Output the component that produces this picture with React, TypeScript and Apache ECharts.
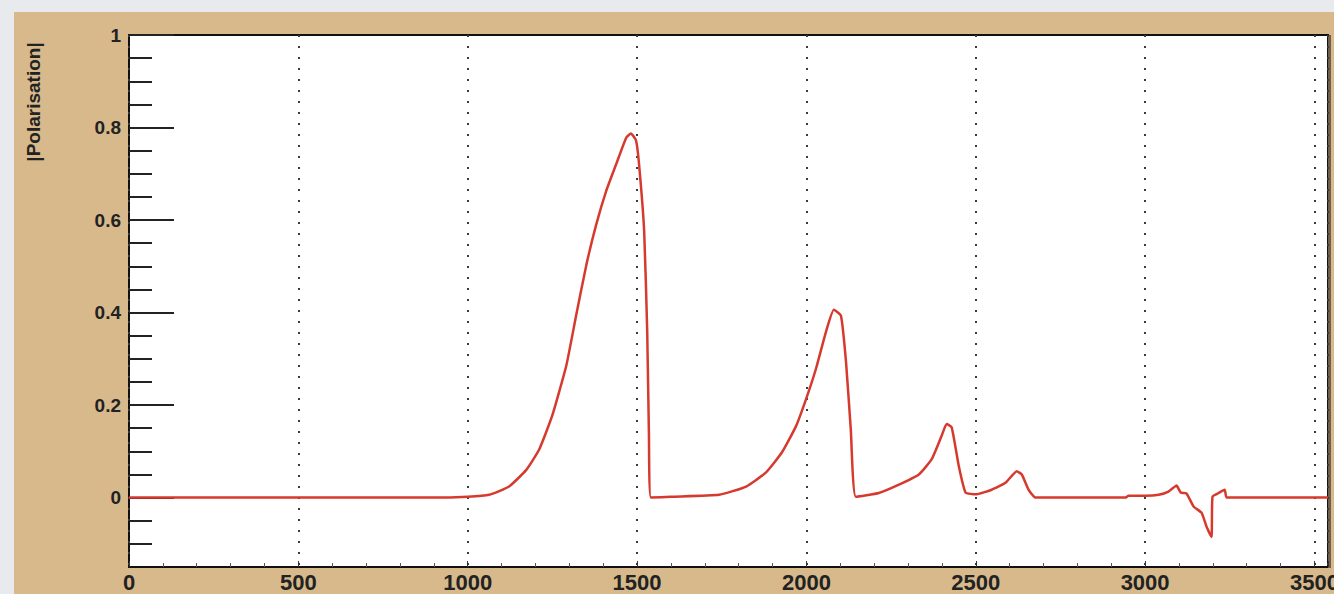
import React, { useEffect, useRef } from "react";
import * as echarts from "echarts";

// energy-like x values and |Polarisation| readings
const xValues = [0, 900, 1000, 1063, 1122, 1173, 1211, 1249, 1291, 1320, 1350, 1379, 1409, 1438, 1468, 1482, 1497, 1506, 1521, 1530, 1535, 1541, 1600, 1742, 1822, 1880, 1928, 1969, 1999, 2028, 2058, 2081, 2102, 2117, 2131, 2146, 2214, 2273, 2332, 2370, 2399, 2414, 2429, 2450, 2470, 2500, 2547, 2588, 2621, 2636, 2656, 2677, 2942, 2951, 3001, 3040, 3069, 3093, 3105, 3122, 3143, 3167, 3181, 3196, 3199, 3217, 3235, 3241, 3540];
const polarisation = [0, 0, 0.002, 0.006, 0.024, 0.06, 0.104, 0.176, 0.285, 0.393, 0.502, 0.589, 0.663, 0.72, 0.778, 0.787, 0.772, 0.72, 0.576, 0.359, 0.141, 0, 0.002, 0.006, 0.024, 0.054, 0.098, 0.154, 0.213, 0.278, 0.359, 0.406, 0.393, 0.293, 0.148, 0.002, 0.01, 0.028, 0.05, 0.083, 0.133, 0.159, 0.152, 0.068, 0.011, 0.007, 0.017, 0.032, 0.057, 0.05, 0.017, 0, 0, 0.004, 0.004, 0.006, 0.013, 0.026, 0.011, 0.009, -0.019, -0.033, -0.062, -0.085, 0.002, 0.01, 0.017, 0, 0];
const yMajorTicks = [0, 0.2, 0.4, 0.6, 0.8, 1];
const yAxisTitle = "|Polarisation|";

const FONT = "Liberation Sans, Arial, Helvetica, sans-serif";

export default function App() {
  const ref = useRef<HTMLDivElement>(null);
  useEffect(() => {
    if (!ref.current) return;
    const chart = echarts.init(ref.current, null, { renderer: "svg" });
    const minorTicks: number[] = [];
    for (let i = -2; i < 20; i++) {
      if (i % 4 !== 0) minorTicks.push(Math.round(i * 5) / 100);
    }
    const data = xValues.map((x, i) => [x, polarisation[i]]);
    chart.setOption({
      animation: false,
      backgroundColor: "#d7b98c",
      graphic: [
        { type: "rect", shape: { x: 0, y: 0, width: 1334, height: 12 }, style: { fill: "#e8eaee" }, silent: true },
        { type: "rect", shape: { x: 0, y: 0, width: 14, height: 594 }, style: { fill: "#e8eaee" }, silent: true },
        { type: "rect", shape: { x: 1328, y: 35, width: 3, height: 533 }, style: { fill: "#6e604c" }, silent: true },
        {
          type: "text",
          x: 33,
          y: 102,
          rotation: Math.PI / 2,
          style: {
            text: yAxisTitle,
            font: `bold 19px ${FONT}`,
            fill: "#222",
            textAlign: "center",
            textVerticalAlign: "middle",
          },
          silent: true,
        },
      ],
      grid: {
        left: 129,
        top: 35,
        right: 6,
        bottom: 27,
        containLabel: false,
        outerBoundsMode: "none",
        show: true,
        backgroundColor: "#ffffff",
        borderColor: "#111",
        borderWidth: 2,
      },
      xAxis: {
        type: "value",
        min: 0,
        max: 3540,
        interval: 500,
        axisLine: { show: false, onZero: false },
        axisTick: { show: true, inside: true, length: 6, lineStyle: { color: "#333", width: 1 } },
        minorTick: { show: true, splitNumber: 5, length: 4, lineStyle: { color: "#555", width: 1 } },
        splitLine: { show: true, lineStyle: { color: "#3a3a3a", width: 2, type: [2, 9] } },
        axisLabel: {
          margin: 4,
          fontSize: 22,
          fontWeight: "bold",
          fontFamily: FONT,
          color: "#222",
          hideOverlap: false,
          formatter: (v: number) => String(v),
        },
      },
      yAxis: [
        {
          type: "value",
          min: -0.15,
          max: 1,
          position: "left",
          axisLine: { show: false },
          splitLine: { show: false },
          axisTick: {
            show: true,
            inside: true,
            length: 23,
            customValues: minorTicks,
            lineStyle: { color: "#222", width: 2 },
          },
          axisLabel: { show: false },
        },
        {
          type: "value",
          min: -0.15,
          max: 1,
          position: "left",
          offset: 0,
          axisLine: { show: false },
          splitLine: { show: false },
          axisTick: {
            show: true,
            inside: true,
            length: 45,
            customValues: yMajorTicks,
            lineStyle: { color: "#222", width: 2 },
          },
          axisLabel: {
            show: true,
            customValues: yMajorTicks,
            margin: 8,
            fontSize: 19,
            fontWeight: "bold",
            fontFamily: FONT,
            color: "#222",
            formatter: (v: number) => String(Math.round(v * 10) / 10),
          },
        },
      ],
      series: [
        {
          type: "line",
          data,
          yAxisIndex: 0,
          showSymbol: false,
          symbol: "none",
          smooth: 0.15,
          lineStyle: { color: "#d63a2f", width: 2.5 },
        },
      ],
    });
    return () => chart.dispose();
  }, []);
  return (
    <div
      ref={ref}
      style={{ position: "fixed", left: 0, top: 0, width: 1334, height: 594 }}
    />
  );
}
